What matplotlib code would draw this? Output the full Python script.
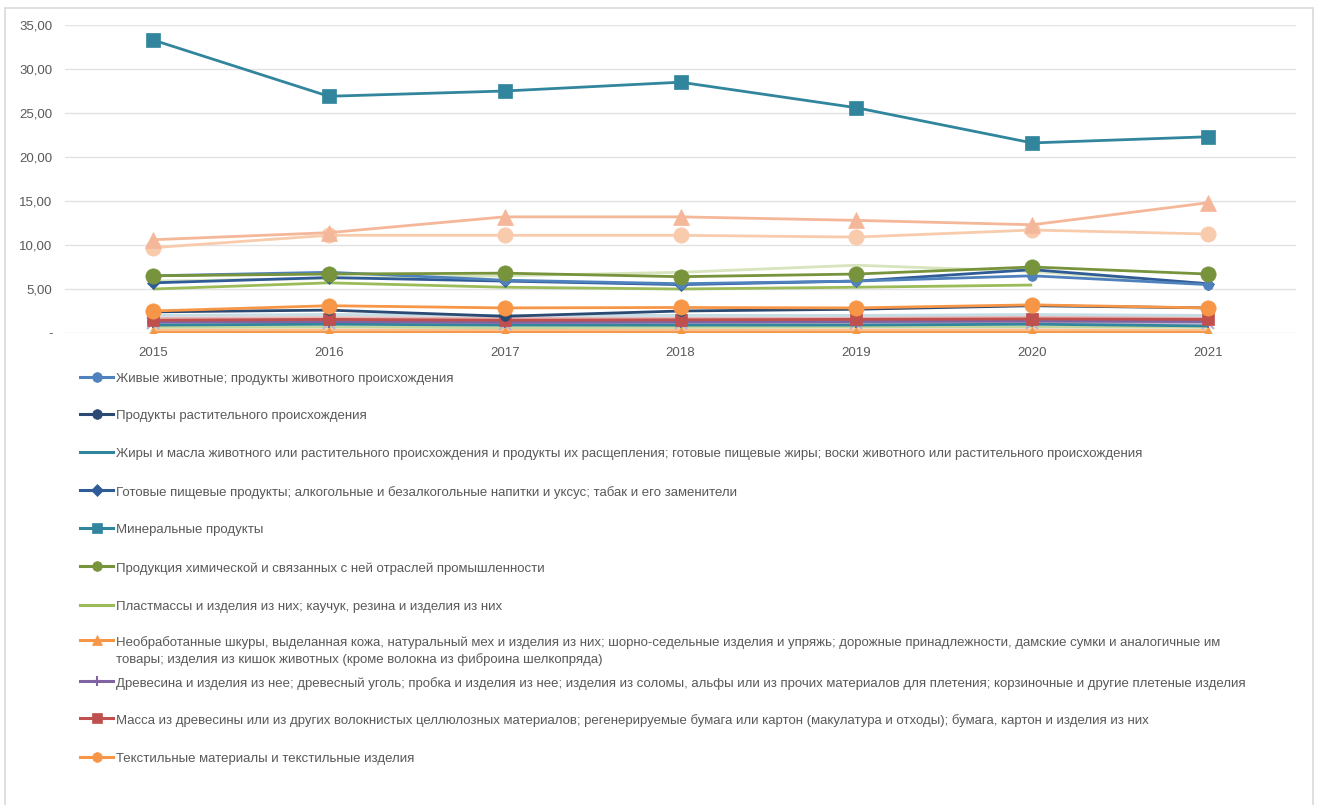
import numpy as np
import matplotlib.pyplot as plt
from matplotlib.lines import Line2D
from matplotlib.patches import Rectangle

# Years on the category axis
years = ['2015', '2016', '2017', '2018', '2019', '2020', '2021']

# Shares by commodity group (%), one list per group
zhivotnye = [6.5, 6.9, 6.0, 5.6, 5.9, 6.5, 5.5]
rastitelnye = [2.4, 2.6, 1.9, 2.5, 2.7, 3.1, 2.85]
zhiry = [0.9, 1.0, 0.9, 0.9, 0.9, 1.0, 0.8]
pishchevye = [5.7, 6.3, 5.9, 5.5, 5.9, 7.2, 5.6]
mineralnye = [33.3, 26.9, 27.5, 28.5, 25.6, 21.6, 22.3]
khimiya = [6.5, 6.7, 6.8, 6.4, 6.7, 7.5, 6.7]
plastmassy = [5.0, 5.7, 5.2, 5.0, 5.2, 5.45, np.nan]
shkury = [0.1, 0.1, 0.1, 0.1, 0.1, 0.1, 0.1]
drevesina = [1.25, 1.3, 1.2, 1.25, 1.3, 1.35, 1.3]
massa = [1.45, 1.55, 1.45, 1.5, 1.55, 1.6, 1.55]
tekstil = [2.5, 3.1, 2.85, 2.9, 2.85, 3.2, 2.85]

# remaining groups (their legend entries fall outside the drawing)
obuv = [10.6, 11.4, 13.2, 13.2, 12.8, 12.3, 14.8]
kamen = [9.7, 11.1, 11.1, 11.1, 10.9, 11.7, 11.25]
metally = [5.9, 6.2, 6.5, 6.9, 7.7, 7.0, 5.6]
mashiny = [2.0, 2.1, 2.0, 2.0, 2.0, 2.1, 2.0]
transport = [1.7, 1.75, 1.7, 1.7, 1.75, 1.8, 1.75]
pribory = [1.1, 1.1, 1.05, 1.1, 1.1, 1.1, 1.1]
oruzhie = [1.35, 1.4, 1.35, 1.35, 1.4, 1.45, 1.4]
tovary = [0.65, 0.7, 0.6, 0.65, 0.7, 0.7, 0.65]
iskusstvo = [0.35, 0.35, 0.3, 0.35, 0.35, 0.35, 0.3]
prochee = [0.15, 0.15, 0.15, 0.15, 0.15, 0.15, 0.15]

labels = [
    'Живые животные; продукты животного происхождения',
    'Продукты растительного происхождения',
    'Жиры и масла животного или растительного происхождения и продукты их расщепления; '
    'готовые пищевые жиры; воски животного или растительного происхождения',
    'Готовые пищевые продукты; алкогольные и безалкогольные напитки и уксус; табак и его заменители',
    'Минеральные продукты',
    'Продукция химической и связанных с ней отраслей промышленности',
    'Пластмассы и изделия из них; каучук, резина и изделия из них',
    'Необработанные шкуры, выделанная кожа, натуральный мех и изделия из них; шорно-седельные '
    'изделия и упряжь; дорожные принадлежности, дамские сумки и аналогичные им\n'
    'товары; изделия из кишок животных (кроме волокна из фиброина шелкопряда)',
    'Древесина и изделия из нее; древесный уголь; пробка и изделия из нее; изделия из соломы, '
    'альфы или из прочих материалов для плетения; корзиночные и другие плетеные изделия',
    'Масса из древесины или из других волокнистых целлюлозных материалов; регенерируемые бумага '
    'или картон (макулатура и отходы); бумага, картон и изделия из них',
    'Текстильные материалы и текстильные изделия',
]

plt.rcParams['font.family'] = ['Liberation Sans', 'DejaVu Sans']

fig = plt.figure(figsize=(13.17, 8.05), dpi=100)
W, H = 1317, 805

# thin frame round the chart
fig.patches.append(Rectangle((5 / W, -0.05), 1308 / W, 1.04, transform=fig.transFigure,
                             fill=False, edgecolor='#D9D9D9', linewidth=1.2))

ax = fig.add_axes([65 / W, 1 - 333 / H, (1296 - 65) / W, (333 - 25) / H])
x = np.arange(len(years))

# (data, color, marker, markersize, label index or None) -- background groups first
styles = [
    (prochee, '#D7E4BD', '^', 10, None),
    (iskusstvo, '#FAC090', None, 0, None),
    (tovary, '#C3D69B', None, 0, None),
    (pribory, '#B9B0CF', 'x', 9, None),
    (oruzhie, '#95B3D7', None, 0, None),
    (transport, '#E6B9B8', None, 0, None),
    (mashiny, '#C6DDE6', None, 0, None),
    (metally, '#D7E4BD', None, 0, None),
    (kamen, '#F8CBAD', 'o', 11, None),
    (obuv, '#F5B799', '^', 11, None),
    (shkury, '#F79646', '^', 7, 7),
    (zhiry, '#31859C', None, 0, 2),
    (drevesina, '#8064A2', '+', 8, 8),
    (massa, '#C0504D', 's', 9, 9),
    (rastitelnye, '#2A4A73', 'o', 7, 1),
    (tekstil, '#F79646', 'o', 11, 10),
    (plastmassy, '#9BBB59', None, 0, 6),
    (pishchevye, '#2F5C97', 'D', 6, 3),
    (zhivotnye, '#4F81BD', 'o', 7, 0),
    (khimiya, '#77933C', 'o', 11, 5),
    (mineralnye, '#31859C', 's', 10, 4),
]

for vals, color, marker, ms, _ in styles:
    ax.plot(x, vals, color=color, linewidth=2.0, marker=marker, markersize=ms,
            markeredgewidth=1.5 if marker in ('x', '+') else 0.5, markeredgecolor=color,
            solid_capstyle='butt')

ax.set_xlim(-0.5, len(years) - 0.5)
ax.set_ylim(0, 35)
ax.set_xticks(x)
ax.set_xticklabels(years)
ax.set_yticks(np.arange(0, 36, 5))
ax.set_yticklabels(['-'] + [f'{v:.2f}'.replace('.', ',') for v in range(5, 36, 5)])
ax.tick_params(length=0, labelsize=9.5, colors='#595959', pad=10)
ax.tick_params(axis='y', pad=9)
ax.grid(axis='y', color='#E3E3E3', linewidth=1)
ax.set_axisbelow(True)
for s in ax.spines.values():
    s.set_visible(False)

# legend, one entry per row below the plot
legend_y = [377, 414, 452, 490, 528, 566, 605, 640, 681, 718, 757]
by_label = {s[4]: s for s in styles if s[4] is not None}
for i, text in enumerate(labels):
    vals, color, marker, ms, _ = by_label[i]
    yf = 1 - legend_y[i] / H
    fig.add_artist(Line2D([80 / W, 113 / W], [yf, yf], transform=fig.transFigure,
                          color=color, linewidth=2.2))
    if marker:
        fig.add_artist(Line2D([96.5 / W], [yf], transform=fig.transFigure, color=color,
                              marker=marker, markersize=min(ms, 7),
                              markeredgewidth=1.5 if marker == '+' else 0.5,
                              markeredgecolor=color))
    fig.text(116 / W, yf + 4 / H, text, ha='left', va='top', fontsize=9.5,
             color='#595959', linespacing=1.45)

fig.savefig('out.png', dpi=100)
